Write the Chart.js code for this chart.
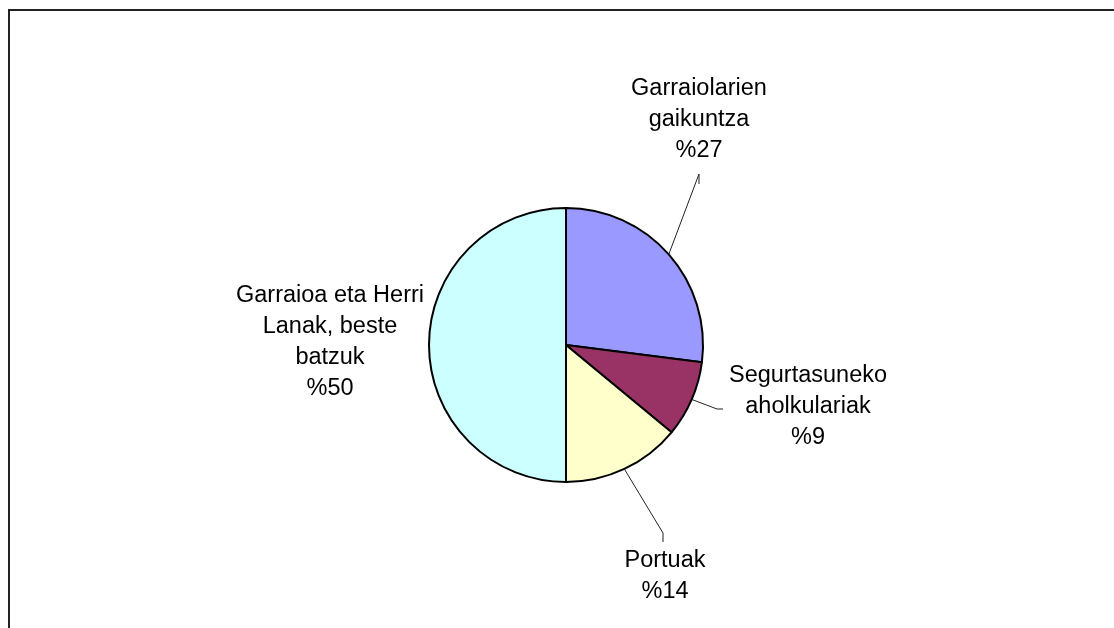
<!DOCTYPE html>
<html>
<head>
<meta charset="utf-8">
<script src="https://cdn.jsdelivr.net/npm/chart.js@4/dist/chart.umd.min.js"></script>
<style>
    html, body { margin: 0; padding: 0; background: #fff; overflow: hidden; }
    #wrap { position: relative; width: 1114px; height: 628px; }
    #frame {
        position: absolute; left: 8px; top: 9px; width: 1200px; height: 700px;
        border-left: 2px solid #222; border-top: 2px solid #222;
    }
    canvas { position: absolute; left: 0; top: 0; }
</style>
</head>
<body>
<div id="wrap">
    <div id="frame"></div>
    <canvas id="myChart" width="1114" height="628"></canvas>
</div>
<script>
// Data
const labels = [
    ['Garraiolarien', 'gaikuntza'],
    ['Segurtasuneko', 'aholkulariak'],
    ['Portuak'],
    ['Garraioa eta Herri', 'Lanak, beste', 'batzuk']
];
const values = [27, 9, 14, 50];
const colors = ['#9999FF', '#993366', '#FFFFCC', '#CCFFFF'];

// label placement: text centre (first line) plus leader elbow, per slice
const labelPos = [
    { x: 699, y: 89, elbow: [699, 174], end: [699, 184] },
    { x: 808, y: 376, elbow: [717, 409], end: [723, 409] },
    { x: 665, y: 561, elbow: [663, 533], end: [663, 542] },
    { x: 330, y: 296, elbow: null, end: null }
];

const labelPlugin = {
    id: 'sliceLabels',
    afterDraw(chart) {
        const ctx = chart.ctx;
        const meta = chart.getDatasetMeta(0);
        ctx.save();
        meta.data.forEach((arc, i) => {
            const p = labelPos[i];
            // leader line from the middle of the arc edge
            if (p.elbow) {
                const mid = (arc.startAngle + arc.endAngle) / 2;
                const sx = arc.x + Math.cos(mid) * arc.outerRadius;
                const sy = arc.y + Math.sin(mid) * arc.outerRadius;
                ctx.strokeStyle = '#222';
                ctx.lineWidth = 1;
                ctx.beginPath();
                ctx.moveTo(sx, sy);
                ctx.lineTo(p.elbow[0], p.elbow[1]);
                ctx.lineTo(p.end[0], p.end[1]);
                ctx.stroke();
            }
            const lines = labels[i].concat(['%' + values[i]]);
            ctx.fillStyle = '#000';
            ctx.font = '23.5px "Liberation Sans", Arial, sans-serif';
            ctx.textAlign = 'center';
            ctx.textBaseline = 'middle';
            lines.forEach((t, k) => {
                ctx.fillText(t, p.x, p.y + k * 30.7);
            });
        });
        ctx.restore();
    }
};

const ctx = document.getElementById('myChart').getContext('2d');
const myChartInstance = new Chart(ctx, {
    type: 'pie',
    data: {
        labels: labels.map(l => l.join(' ')),
        datasets: [{
            data: values,
            backgroundColor: colors,
            borderColor: '#000',
            borderWidth: 2
        }]
    },
    options: {
        responsive: false,
        animation: false,
        layout: {
            padding: { left: 428, right: 410, top: 207, bottom: 145 }
        },
        plugins: {
            legend: { display: false },
            tooltip: { enabled: false }
        }
    },
    plugins: [labelPlugin]
});
</script>
</body>
</html>
